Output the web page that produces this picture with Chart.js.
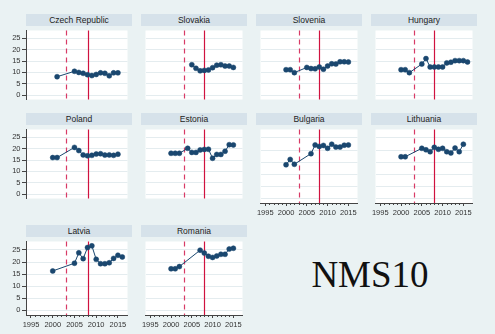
<!DOCTYPE html>
<html>
<head>
<meta charset="utf-8">
<script src="https://cdn.jsdelivr.net/npm/chart.js@4.4.0/dist/chart.umd.min.js"></script>
<style>
  html, body { margin: 0; padding: 0; background: #eaf2f3; }
  #fig { position: relative; width: 495px; height: 334px; overflow: hidden; background: #eaf2f3;
         font-family: "Liberation Sans", Arial, sans-serif; }
  .hdr { position: absolute; height: 12px; line-height: 12px; background: #d6e2ea; color: #222;
         font-size: 8.5px; text-align: center; white-space: nowrap; }
  .panel { position: absolute; }
  #tag { position: absolute; left: 370px; top: 256px; transform: translateX(-50%);
         font-family: "Liberation Serif", "Times New Roman", serif; font-size: 37px; line-height: 37px; color: #111; }
</style>
</head>
<body>
<div id="fig"><div id="tag">NMS10</div></div>
<script>
// Country panels, in reading order
const countries = ["Czech Republic", "Slovakia", "Slovenia", "Hungary", "Poland",
                   "Estonia", "Bulgaria", "Lithuania", "Latvia", "Romania"];

const czechYears = [2001, 2005, 2006, 2007, 2008, 2009, 2010, 2011, 2012, 2013, 2014, 2015];
const czechValues = [8.1, 10.5, 10.0, 9.6, 9.0, 8.6, 9.1, 9.8, 9.6, 8.5, 9.8, 9.8];

const slovakiaYears = [2005, 2006, 2007, 2008, 2009, 2010, 2011, 2012, 2013, 2014, 2015];
const slovakiaValues = [13.4, 11.8, 10.7, 10.9, 11.1, 12.1, 13.2, 13.4, 12.8, 12.8, 12.2];

const sloveniaYears = [2000, 2001, 2002, 2005, 2006, 2007, 2008, 2009, 2010, 2011, 2012, 2013, 2014, 2015];
const sloveniaValues = [11.2, 11.2, 9.9, 12.2, 11.7, 11.6, 12.4, 11.4, 12.8, 13.8, 13.7, 14.7, 14.7, 14.6];

const hungaryYears = [2000, 2001, 2002, 2005, 2006, 2007, 2008, 2009, 2010, 2011, 2012, 2013, 2014, 2015, 2016];
const hungaryValues = [11.2, 11.2, 9.9, 13.7, 16.1, 12.4, 12.4, 12.4, 12.4, 14.2, 14.5, 15.2, 15.2, 15.2, 14.6];

const polandYears = [2000, 2001, 2005, 2006, 2007, 2008, 2009, 2010, 2011, 2012, 2013, 2014, 2015];
const polandValues = [16.1, 16.1, 20.6, 19.2, 17.3, 16.9, 17.1, 17.7, 17.8, 17.2, 17.3, 17.1, 17.6];

const estoniaYears = [2000, 2001, 2002, 2004, 2005, 2006, 2007, 2008, 2009, 2010, 2011, 2012, 2013, 2014, 2015];
const estoniaValues = [18.0, 18.0, 18.0, 20.2, 18.4, 18.4, 19.5, 19.7, 19.8, 15.8, 17.5, 17.5, 18.9, 21.8, 21.7];

const bulgariaYears = [2000, 2001, 2002, 2006, 2007, 2008, 2009, 2010, 2011, 2012, 2013, 2014, 2015];
const bulgariaValues = [13.9, 16.1, 14.1, 18.5, 22.1, 21.5, 21.9, 20.7, 22.4, 21.2, 21.2, 22.0, 22.1];

const lithuaniaYears = [2000, 2001, 2005, 2006, 2007, 2008, 2009, 2010, 2011, 2012, 2013, 2014, 2015];
const lithuaniaValues = [17.2, 17.2, 20.7, 20.1, 19.3, 21.1, 20.3, 20.7, 19.3, 18.8, 20.8, 19.3, 22.4];

const latviaYears = [2000, 2005, 2006, 2007, 2008, 2009, 2010, 2011, 2012, 2013, 2014, 2015, 2016];
const latviaValues = [16.3, 19.5, 23.8, 21.4, 26.0, 26.7, 21.1, 19.3, 19.3, 19.7, 21.5, 22.8, 22.1];

const romaniaYears = [2000, 2001, 2002, 2007, 2008, 2009, 2010, 2011, 2012, 2013, 2014, 2015];
const romaniaValues = [17.2, 17.2, 18.1, 24.9, 23.7, 22.4, 21.9, 22.5, 23.2, 23.2, 25.4, 25.7];

const seriesYears = [czechYears, slovakiaYears, sloveniaYears, hungaryYears, polandYears,
                     estoniaYears, bulgariaYears, lithuaniaYears, latviaYears, romaniaYears];
const seriesValues = [czechValues, slovakiaValues, sloveniaValues, hungaryValues, polandValues,
                      estoniaValues, bulgariaValues, lithuaniaValues, latviaValues, romaniaValues];

// Axis ticks and reference years
const yTickValues = [0, 5, 10, 15, 20, 25];
const xTickLabels = [1995, 2000, 2005, 2010, 2015];
const xMinorTicks = [1996, 1997, 1998, 1999, 2001, 2002, 2003, 2004, 2006, 2007, 2008, 2009,
                     2011, 2012, 2013, 2014];
const dashedYear = 2003;
const solidYear = 2008;

// Panels that carry a visible x axis
const xAxisPanels = ["Bulgaria", "Lithuania", "Latvia", "Romania"];

// Geometry of the grid of panels
const colLefts = [26, 141, 256, 371];
const headerTops = [14, 113, 225];
const plotW = 106, plotH = 78, headerH = 12;
const xRange = [1993.85, 2017.2];
const yRange = [-1.95, 28.5];

const NAVY = '#1a476f';
const FONT = '"Liberation Sans", Arial, sans-serif';
const fig = document.getElementById('fig');

function panelPlugin(showX) {
  return {
    id: 'panelDecor',
    beforeDraw(chart) {
      const a = chart.chartArea, c = chart.ctx;
      c.save();
      c.fillStyle = '#ffffff';
      c.fillRect(a.left, a.top, a.right - a.left, a.bottom - a.top);
      c.restore();
    },
    beforeDatasetsDraw(chart) {
      const a = chart.chartArea, c = chart.ctx, x = chart.scales.x;
      c.save();
      c.lineWidth = 1.2;
      // dashed reference year
      c.strokeStyle = '#d83a66';
      c.setLineDash([5, 4]);
      const xd = Math.round(x.getPixelForValue(dashedYear)) + 0.5;
      c.beginPath(); c.moveTo(xd, a.top); c.lineTo(xd, a.bottom); c.stroke();
      // solid reference year
      c.setLineDash([]);
      c.strokeStyle = '#d0123f';
      const xs = Math.round(x.getPixelForValue(solidYear)) + 0.5;
      c.beginPath(); c.moveTo(xs, a.top); c.lineTo(xs, a.bottom); c.stroke();
      c.restore();
    },
    afterDraw(chart) {
      if (!showX) return;
      const a = chart.chartArea, c = chart.ctx, x = chart.scales.x;
      c.save();
      c.strokeStyle = '#444';
      c.lineWidth = 1;
      xMinorTicks.forEach(v => {
        const px = Math.round(x.getPixelForValue(v)) + 0.5;
        c.beginPath(); c.moveTo(px, a.bottom); c.lineTo(px, a.bottom + 2); c.stroke();
      });
      c.restore();
    }
  };
}

countries.forEach((name, i) => {
  const col = i % 4, row = Math.floor(i / 4);
  const showY = col === 0;
  const showX = xAxisPanels.includes(name);
  const axisW = showY ? 26 : 0;
  const axisH = showX ? 18 : 0;
  const left = colLefts[col];
  const plotTop = headerTops[row] + headerH;

  const hdr = document.createElement('div');
  hdr.className = 'hdr';
  hdr.style.left = left + 'px';
  hdr.style.top = headerTops[row] + 'px';
  hdr.style.width = plotW + 'px';
  hdr.textContent = name;
  fig.appendChild(hdr);

  const w = plotW + axisW, h = plotH + axisH;
  const wrap = document.createElement('div');
  wrap.className = 'panel';
  wrap.style.left = (left - axisW) + 'px';
  wrap.style.top = plotTop + 'px';
  wrap.style.width = w + 'px';
  wrap.style.height = h + 'px';
  const cv = document.createElement('canvas');
  cv.width = w; cv.height = h;
  cv.style.width = w + 'px'; cv.style.height = h + 'px';
  wrap.appendChild(cv);
  fig.appendChild(wrap);

  const points = seriesYears[i].map((yr, k) => ({ x: yr, y: seriesValues[i][k] }));

  new Chart(cv, {
    type: 'line',
    data: {
      datasets: [{
        data: points,
        borderColor: NAVY,
        borderWidth: 1,
        backgroundColor: NAVY,
        pointRadius: 2.5,
        pointBackgroundColor: NAVY,
        pointBorderColor: NAVY,
        pointBorderWidth: 0.5,
        tension: 0
      }]
    },
    options: {
      responsive: false,
      animation: false,
      devicePixelRatio: 1,
      layout: { padding: 0 },
      plugins: { legend: { display: false }, tooltip: { enabled: false }, title: { display: false } },
      scales: {
        x: {
          type: 'linear',
          min: xRange[0], max: xRange[1],
          display: showX,
          afterBuildTicks: s => { s.ticks = xTickLabels.map(v => ({ value: v })); },
          afterFit: s => { s.height = axisH; s.paddingLeft = 0; s.paddingRight = 0; },
          grid: { drawOnChartArea: false, drawTicks: true, tickLength: 3, tickColor: '#444', tickWidth: 1 },
          border: { display: true, color: '#444', width: 1 },
          ticks: { autoSkip: false, maxRotation: 0, minRotation: 0, padding: 2, color: '#333',
                   font: { size: 7.5, family: FONT }, callback: v => String(v) }
        },
        y: {
          type: 'linear',
          min: yRange[0], max: yRange[1],
          afterBuildTicks: s => { s.ticks = yTickValues.map(v => ({ value: v })); },
          afterFit: s => { s.width = axisW; s.paddingTop = 0; s.paddingBottom = 0; },
          grid: { color: '#e4ecef', lineWidth: 1, drawTicks: showY, tickLength: 4, tickColor: '#444' },
          border: { display: showY, color: '#444', width: 1 },
          ticks: { display: showY, padding: 1.5, color: '#333',
                   font: { size: 7.5, family: FONT }, callback: v => String(v) }
        }
      }
    },
    plugins: [panelPlugin(showX)]
  });
});
</script>
</body>
</html>
